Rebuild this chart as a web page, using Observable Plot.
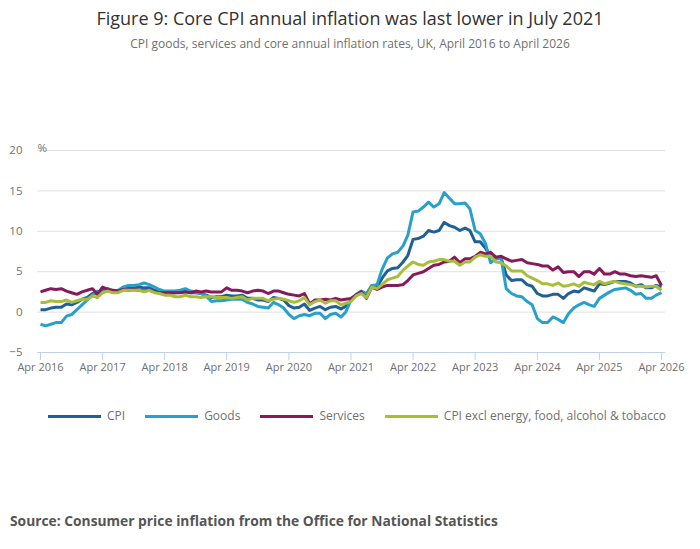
<!DOCTYPE html>
<html>
<head>
<meta charset="utf-8">
<script src="https://cdn.jsdelivr.net/npm/d3@7"></script>
<script src="https://cdn.jsdelivr.net/npm/@observablehq/plot@0.6"></script>
<style>
  html, body { margin: 0; padding: 0; background: #fff; }
  body { width: 700px; height: 549px; position: relative; overflow: hidden; font-family: "Open Sans", sans-serif; }
  #title { position: absolute; top: 5px; left: 0; width: 700px; text-align: center; font-size: 18px; line-height: 26px; color: #323132; }
  #subtitle { position: absolute; top: 35px; left: 0; width: 700px; text-align: center; font-size: 12px; line-height: 18px; color: #707070; }
  #chart { position: absolute; top: 60px; left: 0; }
  #legend { position: absolute; top: 407px; left: 48px; display: flex; align-items: center; font-size: 12px; line-height: 18px; color: #707070; white-space: nowrap; }
  #legend .item { display: flex; align-items: center; margin-right: 20px; }
  #legend .sw { width: 53px; height: 3px; margin-right: 6px; }
  #source { position: absolute; top: 511px; left: 10px; font-size: 13.8px; line-height: 20px; font-weight: bold; color: #555; white-space: nowrap; }
</style>
</head>
<body>
<div id="title"></div>
<div id="subtitle"></div>
<div id="chart"></div>
<div id="legend"></div>
<div id="source"></div>
<script>
const titleText = "Figure 9: Core CPI annual inflation was last lower in July 2021";
const subtitleText = "CPI goods, services and core annual inflation rates, UK, April 2016 to April 2026";
const sourceText = "Source: Consumer price inflation from the Office for National Statistics";

const seriesNames = ["CPI", "Goods", "Services", "CPI excl energy, food, alcohol & tobacco"];
const seriesColors = ["#206095", "#27a0cc", "#871a5b", "#a8bd3a"];

// Monthly, April 2016 to April 2026 (121 months)
const cpi = [
  0.3,0.3,0.5,0.6,0.6,1.0,0.9,1.2,1.6,
  1.8,2.3,2.3,2.7,2.9,2.6,2.6,2.9,3.0,3.0,3.1,3.0,
  3.0,2.7,2.5,2.4,2.4,2.4,2.5,2.7,2.4,2.4,2.3,2.1,
  1.8,1.9,1.9,2.1,2.0,2.0,2.1,1.7,1.7,1.5,1.5,1.3,
  1.8,1.7,1.5,0.8,0.5,0.6,1.0,0.2,0.5,0.7,0.3,0.6,
  0.7,0.4,0.7,1.5,2.1,2.5,2.0,3.2,3.1,4.2,5.1,5.4,
  5.5,6.2,7.0,9.0,9.1,9.4,10.1,9.9,10.1,11.1,10.7,10.5,
  10.1,10.4,10.1,8.7,8.7,7.9,6.8,6.7,6.7,4.6,3.9,4.0,
  4.0,3.4,3.2,2.3,2.0,2.0,2.2,2.2,1.7,2.3,2.6,2.5,
  3.0,2.8,2.6,3.5,3.4,3.6,3.8,3.8,3.8,3.6,3.2,3.4,
  3.0,3.0,3.3,3.1
];
const goods = [
  -1.5,-1.7,-1.5,-1.3,-1.3,-0.5,-0.3,0.3,0.9,
  1.5,2.1,2.6,2.4,2.9,2.6,2.7,3.1,3.3,3.3,3.4,3.6,
  3.4,3.1,2.8,2.6,2.6,2.6,2.7,2.9,2.6,2.5,2.3,2.0,
  1.3,1.4,1.4,1.5,1.6,1.6,1.6,1.2,1.0,0.7,0.6,0.5,
  1.2,0.9,0.5,-0.3,-0.8,-0.45,-0.3,-0.45,-0.15,-0.15,-0.8,-0.3,
  -0.15,-0.6,0.0,1.5,2.2,2.6,2.3,3.3,3.4,5.3,6.7,7.2,
  7.4,8.2,9.5,12.4,12.5,13.0,13.6,13.0,13.4,14.8,14.1,13.4,
  13.4,13.5,12.8,10.1,9.7,8.5,6.1,6.6,6.6,2.9,2.3,2.0,
  1.9,1.3,0.9,-0.8,-1.3,-1.3,-0.6,-0.9,-1.3,-0.2,0.5,0.9,
  1.2,0.9,0.7,1.7,2.1,2.5,2.8,2.9,3.0,2.7,2.2,2.3,
  1.7,1.7,2.1,2.4
];
const services = [
  2.5,2.7,2.9,2.8,2.9,2.6,2.4,2.2,2.5,
  2.7,2.9,2.2,3.1,2.8,2.7,2.6,2.8,2.7,2.8,2.7,2.6,
  2.7,2.5,2.4,2.4,2.4,2.4,2.4,2.5,2.4,2.6,2.5,2.6,
  2.5,2.5,2.5,3.0,2.7,2.7,2.6,2.4,2.6,2.7,2.6,2.3,
  2.6,2.6,2.4,2.2,2.1,2.0,2.3,1.0,1.5,1.5,1.6,1.5,
  1.7,1.5,1.6,1.7,2.1,2.5,1.7,3.1,2.8,3.1,3.3,3.3,
  3.3,3.4,3.9,4.6,4.8,5.0,5.4,5.8,5.9,6.2,6.3,6.8,
  6.1,6.6,6.6,6.9,7.4,7.2,7.4,6.8,6.9,6.6,6.3,6.4,
  6.5,6.1,6.0,5.9,5.7,5.7,5.2,5.6,4.9,5.0,5.0,4.4,
  5.0,5.0,4.7,5.4,4.7,4.7,5.0,4.7,4.7,4.5,4.4,4.5,
  4.4,4.3,4.5,3.3
];
const core = [
  1.2,1.2,1.4,1.3,1.3,1.5,1.2,1.4,1.6,
  1.6,2.0,1.8,2.4,2.6,2.4,2.4,2.7,2.7,2.7,2.7,2.5,
  2.7,2.4,2.3,2.1,2.1,1.9,1.9,2.1,1.9,1.9,1.8,1.9,
  1.9,1.8,1.8,1.8,1.7,1.8,1.9,1.5,1.7,1.7,1.7,1.4,
  1.6,1.7,1.6,1.4,1.2,1.4,1.8,0.9,1.3,1.5,1.1,1.4,
  1.4,0.9,1.1,1.3,2.0,2.3,1.8,3.1,2.9,3.4,4.0,4.2,
  4.4,5.2,5.7,6.2,5.9,5.8,6.2,6.3,6.5,6.5,6.3,6.3,
  5.8,6.2,6.2,6.8,7.1,6.9,6.9,6.2,6.1,5.7,5.1,5.1,
  5.1,4.5,4.2,3.9,3.5,3.5,3.3,3.6,3.2,3.3,3.5,3.2,
  3.7,3.5,3.4,3.8,3.5,3.7,3.8,3.6,3.5,3.4,3.2,3.2,
  3.1,3.2,3.2,2.7
];
const seriesValues = [cpi, goods, services, core];

const yTicks = [-5, 0, 5, 10, 15, 20];
const xTickYears = [2016, 2017, 2018, 2019, 2020, 2021, 2022, 2023, 2024, 2025, 2026];

const months = d3.utcMonth.range(new Date(Date.UTC(2016, 3, 1)), new Date(Date.UTC(2026, 4, 1)));
const xTicks = xTickYears.map(y => new Date(Date.UTC(y, 3, 1)));

const data = [];
seriesNames.forEach((name, i) => {
  seriesValues[i].forEach((v, j) => data.push({ series: name, date: months[j], value: v }));
});

const axisColor = "#c2d1ea";
const textColor = "#707070";

document.getElementById("title").textContent = titleText;
document.getElementById("subtitle").textContent = subtitleText;
document.getElementById("source").textContent = sourceText;

const chart = Plot.plot({
  width: 700,
  height: 330,
  marginLeft: 40,
  marginRight: 39,
  marginTop: 90,
  marginBottom: 38,
  style: { fontFamily: "Open Sans, sans-serif", fontSize: "11px", color: textColor, background: "#fff", overflow: "visible" },
  x: { type: "utc", domain: [months[0], months[months.length - 1]] },
  y: { domain: [-5, 20] },
  marks: [
    Plot.ruleY(yTicks.filter(d => d > -5), { stroke: "#e0e0e0", strokeWidth: 1, insetLeft: -3, insetRight: -4 }),
    Plot.ruleY([-5], { stroke: axisColor, strokeWidth: 1, insetLeft: -3, insetRight: -4 }),
    Plot.axisY({ ticks: yTicks, tickSize: 0, tickPadding: 18, label: null, fill: textColor, fontSize: 11.5 }),
    Plot.axisX({ ticks: xTicks, tickSize: 8, tickPadding: 3, tickFormat: d3.utcFormat("%b %Y"), label: null, stroke: axisColor, fill: textColor }),
    ...seriesNames.map((name, i) =>
      Plot.line(data.filter(d => d.series === name), {
        x: "date", y: "value", stroke: seriesColors[i], strokeWidth: 3, strokeLinejoin: "round", strokeLinecap: "butt"
      })
    ),
    Plot.text(["%"], { frameAnchor: "top-left", textAnchor: "start", dx: -3, dy: -7, fill: textColor, fontSize: 11.5 })
  ]
});
document.getElementById("chart").appendChild(chart);

const legend = document.getElementById("legend");
seriesNames.forEach((name, i) => {
  const item = document.createElement("div");
  item.className = "item";
  const sw = document.createElement("div");
  sw.className = "sw";
  sw.style.background = seriesColors[i];
  const label = document.createElement("span");
  label.textContent = name;
  item.appendChild(sw);
  item.appendChild(label);
  legend.appendChild(item);
});
</script>
</body>
</html>
